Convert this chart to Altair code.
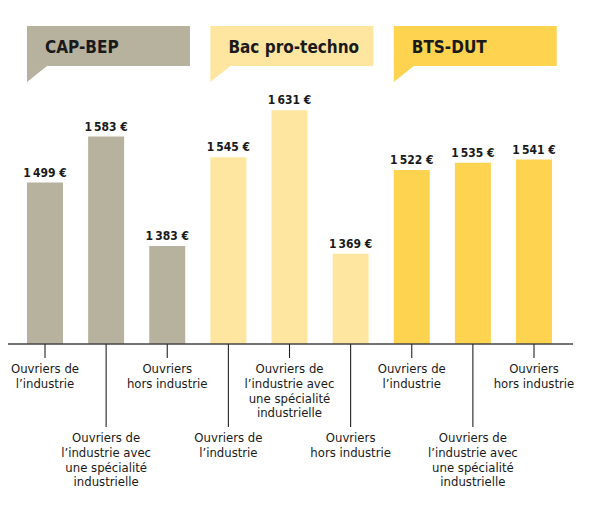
import altair as alt
import pandas as pd

# ---------------- data ----------------
groups = ["CAP-BEP", "Bac pro-techno", "BTS-DUT"]
group_colors = ["#B7B29E", "#FEE6A0", "#FED350"]
jobs = [
    "Ouvriers de\nl’industrie",
    "Ouvriers de\nl’industrie avec\nune spécialité\nindustrielle",
    "Ouvriers\nhors industrie",
]
cap_bep = [1499, 1583, 1383]
bac_pro = [1545, 1631, 1369]
bts_dut = [1522, 1535, 1541]
series = [cap_bep, bac_pro, bts_dut]

# ---------------- geometry (page pixels -> data units) ----------------
W, H = 580, 495
STEP = 61.125          # px between bar centres
FIRST_X = 45.0         # page x of first bar centre
PX_PER_EUR = 0.5474
REF_V, REF_Y = 1512.0, 175.4   # value <-> page y reference


def xu(px):
    return (px - FIRST_X) / STEP


def yu(py):
    return REF_V - (py - REF_Y) / PX_PER_EUR


x_dom = [xu(8), xu(8 + W)]
y_dom = [yu(8 + H), yu(8)]
BASE = yu(344)
HALF = 18 / STEP
FONT = "'Liberation Sans Narrow', 'DejaVu Sans Condensed', 'Roboto Condensed', sans-serif"

rows = []
for g, (grp, vals) in enumerate(zip(groups, series)):
    for j, (job, v) in enumerate(zip(jobs, vals)):
        i = g * 3 + j
        long_tick = i % 2 == 1
        rows.append(dict(
            idx=i, group=grp, job=job, value=v, base=BASE,
            x0=i - HALF, x1=i + HALF,
            label=f"{v:,}".replace(",", "\u2009") + " €",
            tick_end=yu(427) if long_tick else yu(358),
            text_y=yu(442.3) if long_tick else yu(373.3),
        ))
df = pd.DataFrame(rows)

hdr = pd.DataFrame([
    dict(group=grp, left=3 * g - HALF, right=3 * g + 2 + 22.7 / STEP,
         top=yu(26), bottom=yu(66), tx=3 * g - HALF + 18 / STEP, ty=yu(52.5))
    for g, grp in enumerate(groups)
])
tail_rows = []
for g, grp in enumerate(groups):
    left = 3 * g - HALF
    tail_rows.append(dict(group=grp, x=left, y=yu(66), y2=yu(82)))
    tail_rows.append(dict(group=grp, x=left + 20 / STEP, y=yu(66), y2=yu(66)))
tails = pd.DataFrame(tail_rows)
axis_df = pd.DataFrame([dict(x=xu(6), x2=xu(573), y=BASE)])

xs = alt.Scale(domain=x_dom, nice=False, zero=False)
ys = alt.Scale(domain=y_dom, nice=False, zero=False)
cs = alt.Scale(domain=groups, range=group_colors)

bars = alt.Chart(df).mark_rect().encode(
    x=alt.X("x0:Q", scale=xs, axis=None), x2="x1:Q",
    y=alt.Y("value:Q", scale=ys, axis=None), y2="base:Q",
    color=alt.Color("group:N", scale=cs, legend=None),
)
values = alt.Chart(df).mark_text(
    baseline="alphabetic", dy=-6, font=FONT, fontSize=12, fontWeight="bold", color="#1a1a1a"
).encode(
    x=alt.X("idx:Q", scale=xs, axis=None),
    y=alt.Y("value:Q", scale=ys, axis=None),
    text="label:N",
)
axis_line = alt.Chart(axis_df).mark_rule(color="#444444", strokeWidth=1.4).encode(
    x=alt.X("x:Q", scale=xs, axis=None), x2="x2:Q",
    y=alt.Y("y:Q", scale=ys, axis=None),
)
ticks = alt.Chart(df).mark_rule(color="#222222", strokeWidth=1.1).encode(
    x=alt.X("idx:Q", scale=xs, axis=None),
    y=alt.Y("base:Q", scale=ys, axis=None), y2="tick_end:Q",
)
job_labels = alt.Chart(df).mark_text(
    align="center", baseline="alphabetic", lineBreak="\n", lineHeight=14.7,
    font=FONT, fontSize=13, color="#1a1a1a",
).encode(
    x=alt.X("idx:Q", scale=xs, axis=None),
    y=alt.Y("text_y:Q", scale=ys, axis=None),
    text="job:N",
)
boxes = alt.Chart(hdr).mark_rect().encode(
    x=alt.X("left:Q", scale=xs, axis=None), x2="right:Q",
    y=alt.Y("top:Q", scale=ys, axis=None), y2="bottom:Q",
    color=alt.Color("group:N", scale=cs, legend=None),
)
tail = alt.Chart(tails).mark_area(interpolate="linear").encode(
    x=alt.X("x:Q", scale=xs, axis=None),
    y=alt.Y("y:Q", scale=ys, axis=None), y2="y2:Q",
    color=alt.Color("group:N", scale=cs, legend=None),
    detail="group:N",
)
hdr_text = alt.Chart(hdr).mark_text(
    align="left", baseline="alphabetic", font=FONT, fontSize=17, fontWeight="bold", color="#1a1a1a"
).encode(
    x=alt.X("tx:Q", scale=xs, axis=None),
    y=alt.Y("ty:Q", scale=ys, axis=None),
    text="group:N",
)

chart = alt.layer(
    boxes, tail, hdr_text, bars, values, axis_line, ticks, job_labels
).properties(
    width=W, height=H, autosize=alt.AutoSizeParams(type="none"), padding=0
).configure_view(stroke=None)

chart.save("out.html", embed_options={"renderer": "svg", "actions": False})
